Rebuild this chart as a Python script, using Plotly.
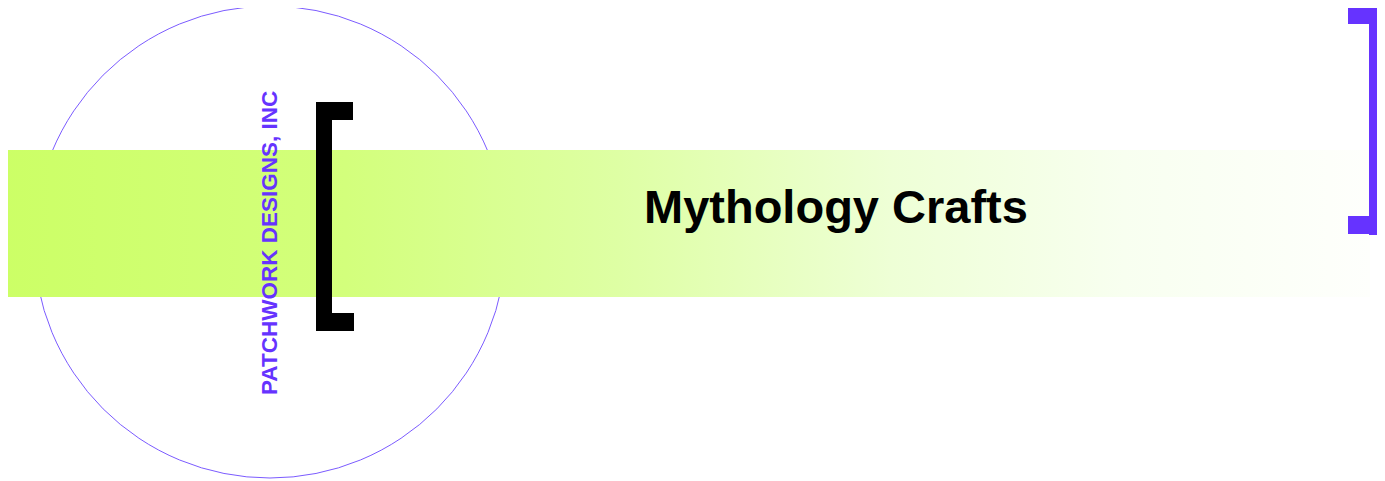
import plotly.graph_objects as go

# Canvas (pixel coordinates); the page body adds an 8px offset
W, H = 1385, 481
OFF = 8

# Content
title_text = "Mythology Crafts"
company_text = "PATCHWORK DESIGNS, INC"

# Colours
purple = "#6633FF"
band_colors = [[0.0, "#CCFF66"], [0.25, "#D3FF7C"], [0.45, "#DEFFA4"],
               [0.65, "#EEFFD6"], [0.82, "#F8FFF0"], [1.0, "#FEFFFC"]]

# Band geometry
band_x = [4, 1370, 1370, 4, 4]
band_y = [150, 150, 297, 297, 150]

# Circle geometry
circle_box = dict(x0=34, x1=506, y0=6, y1=478)

# Bracket pieces (x0, x1, y0, y1)
left_bracket = [(316, 332, 102, 331), (316, 353, 102, 120), (316, 354, 313, 331)]
right_bracket = [(1369, 1385, 6, 235), (1348, 1385, 6, 24), (1348, 1369, 216, 234)]

fig = go.Figure()
fig.add_trace(go.Scatter(
    x=band_x, y=band_y, mode="lines", fill="toself",
    fillgradient=dict(type="horizontal", colorscale=band_colors),
    line=dict(width=0), hoverinfo="skip", showlegend=False))

shapes = [dict(type="circle", xref="x", yref="y", layer="below",
               line=dict(color="#7B5BFF", width=1), **circle_box)]
for (x0, x1, y0, y1) in left_bracket:
    shapes.append(dict(type="rect", xref="x", yref="y", x0=x0, x1=x1, y0=y0, y1=y1,
                       fillcolor="black", line=dict(width=0), layer="above"))
for (x0, x1, y0, y1) in right_bracket:
    shapes.append(dict(type="rect", xref="x", yref="y", x0=x0, x1=x1, y0=y0, y1=y1,
                       fillcolor=purple, line=dict(width=0), layer="above"))

annotations = [
    dict(x=269, y=243, xref="x", yref="y", text="<b>" + company_text + "</b>",
         textangle=-90, showarrow=False,
         font=dict(family="Liberation Sans, Arial", size=22.5, color=purple)),
    dict(x=835.5, y=206, xref="x", yref="y", text="<b>" + title_text + "</b>",
         showarrow=False,
         font=dict(family="Liberation Sans, Arial", size=47, color="black")),
]

fig.update_layout(
    width=W, height=H, margin=dict(l=0, r=0, t=0, b=0),
    paper_bgcolor="white", plot_bgcolor="white",
    xaxis=dict(range=[OFF, W + OFF], visible=False, fixedrange=True),
    yaxis=dict(range=[H + OFF, OFF], visible=False, fixedrange=True),
    shapes=shapes, annotations=annotations, showlegend=False)

fig.write_html("out.html")
